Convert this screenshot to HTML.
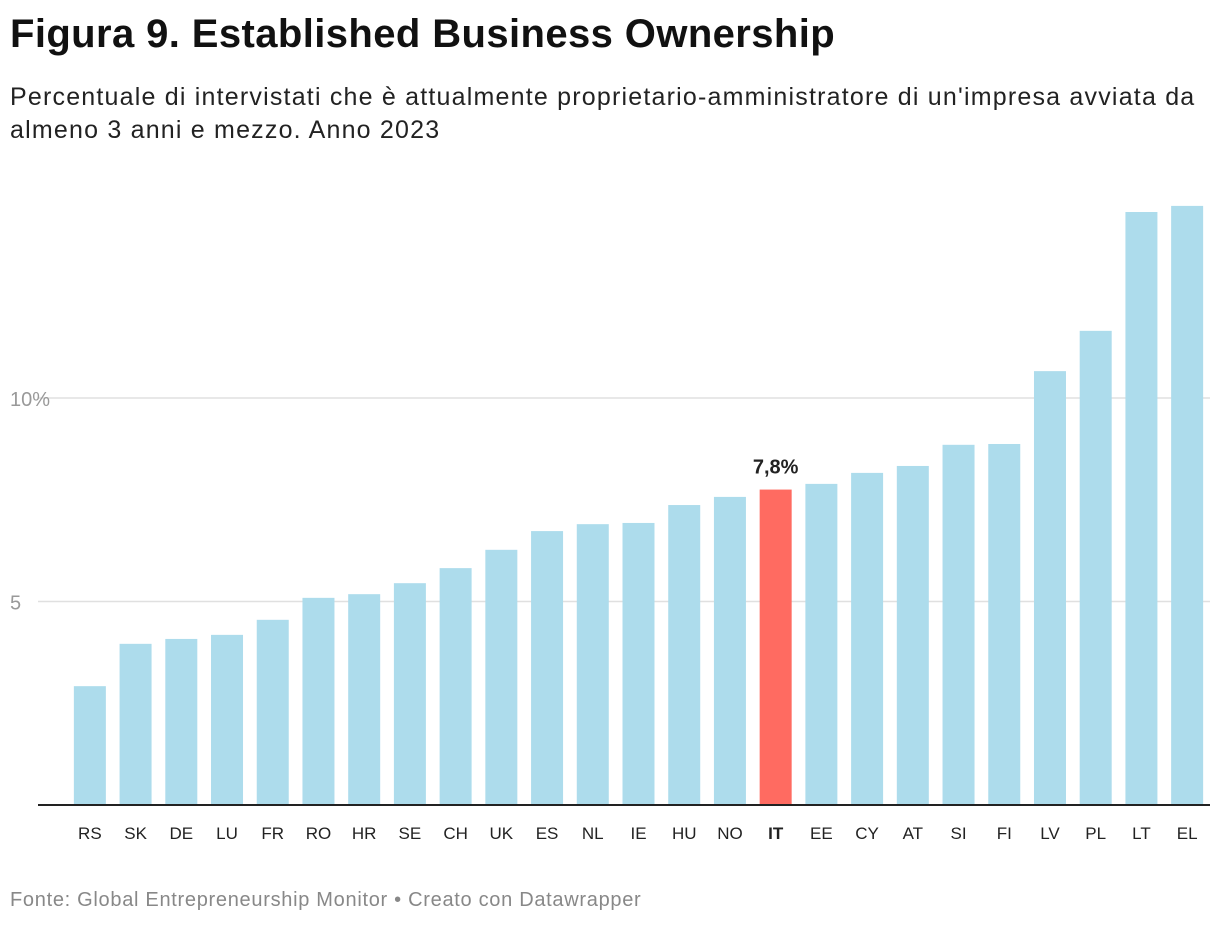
<!DOCTYPE html>
<html><head><meta charset="utf-8">
<style>
body{margin:0;background:#fff;font-family:"Liberation Sans",Arial,sans-serif;}
#wrap{position:relative;width:1220px;height:926px;overflow:hidden;}
h1{position:absolute;left:10px;top:12px;margin:0;font-size:40px;font-weight:bold;color:#111;letter-spacing:0.4px;}
.sub{position:absolute;left:10px;top:81px;font-size:25px;line-height:33px;color:#222;width:1210px;letter-spacing:1.2px;}
.foot{position:absolute;left:10px;top:889px;font-size:20px;color:#888;letter-spacing:0.7px;}
</style></head><body>
<div id="wrap">
<h1>Figura 9. Established Business Ownership</h1>
<div class="sub">Percentuale di intervistati che è attualmente proprietario-amministratore di un'impresa avviata da almeno 3 anni e mezzo. Anno 2023</div>
<svg id="chart" width="1220" height="926" style="position:absolute;left:0;top:0"></svg>
<div class="foot">Fonte: Global Entrepreneurship Monitor • Creato con Datawrapper</div>
</div>
<script>
const categories=["RS","SK","DE","LU","FR","RO","HR","SE","CH","UK","ES","NL","IE","HU","NO","IT","EE","CY","AT","SI","FI","LV","PL","LT","EL"];
const values=[2.92,3.96,4.08,4.18,4.55,5.09,5.18,5.45,5.82,6.27,6.73,6.9,6.93,7.37,7.57,7.75,7.89,8.16,8.33,8.85,8.87,10.66,11.65,14.57,14.72];
const highlight="IT";
const highlightLabel="7,8%";
const ticks=[5,10];
const tickLabels=["5","10%"];

const svg=document.getElementById('chart');
const NS="http://www.w3.org/2000/svg";
const x0=67,x1=1210,y0=805,pxPerUnit=40.7;
const y=v=>y0-v*pxPerUnit;
const step=(x1-x0)/categories.length,bw=32;
function mk(t,a){const e=document.createElementNS(NS,t);for(const k in a)e.setAttribute(k,a[k]);svg.appendChild(e);return e;}
ticks.forEach((t,i)=>{
 const l=mk('line',{x1:38,x2:1210,y1:y(t),y2:y(t),stroke:'#e0e0e0','stroke-width':1.5});
 
 
 const tx=mk('text',{x:10,y:y(t)+8,'font-size':20,fill:'#999','font-family':'Liberation Sans, sans-serif'});
 tx.textContent=tickLabels[i];
 
 
});
categories.forEach((c,i)=>{
 const cx=x0+step*(i+0.5);
 const hi=c===highlight;
 const r=mk('rect',{x:cx-bw/2,y:y(values[i]),width:bw,height:values[i]*pxPerUnit,fill:hi?'#ff6b61':'#addcec'});
 
 
 const t=mk('text',{x:cx,y:839,'text-anchor':'middle','font-size':17,fill:'#222','font-weight':hi?'bold':'normal','font-family':'Liberation Sans, sans-serif'});
 t.textContent=c;
 
 
 if(hi){
  const v=mk('text',{x:cx,y:y(values[i])-16,'text-anchor':'middle','font-size':20,'font-weight':'bold',fill:'#222','font-family':'Liberation Sans, sans-serif'});
  v.textContent=highlightLabel;
  
  
 }
});
const ax=mk('line',{x1:38,x2:1210,y1:y0,y2:y0,stroke:'#222','stroke-width':2});


</script>
</body></html>
